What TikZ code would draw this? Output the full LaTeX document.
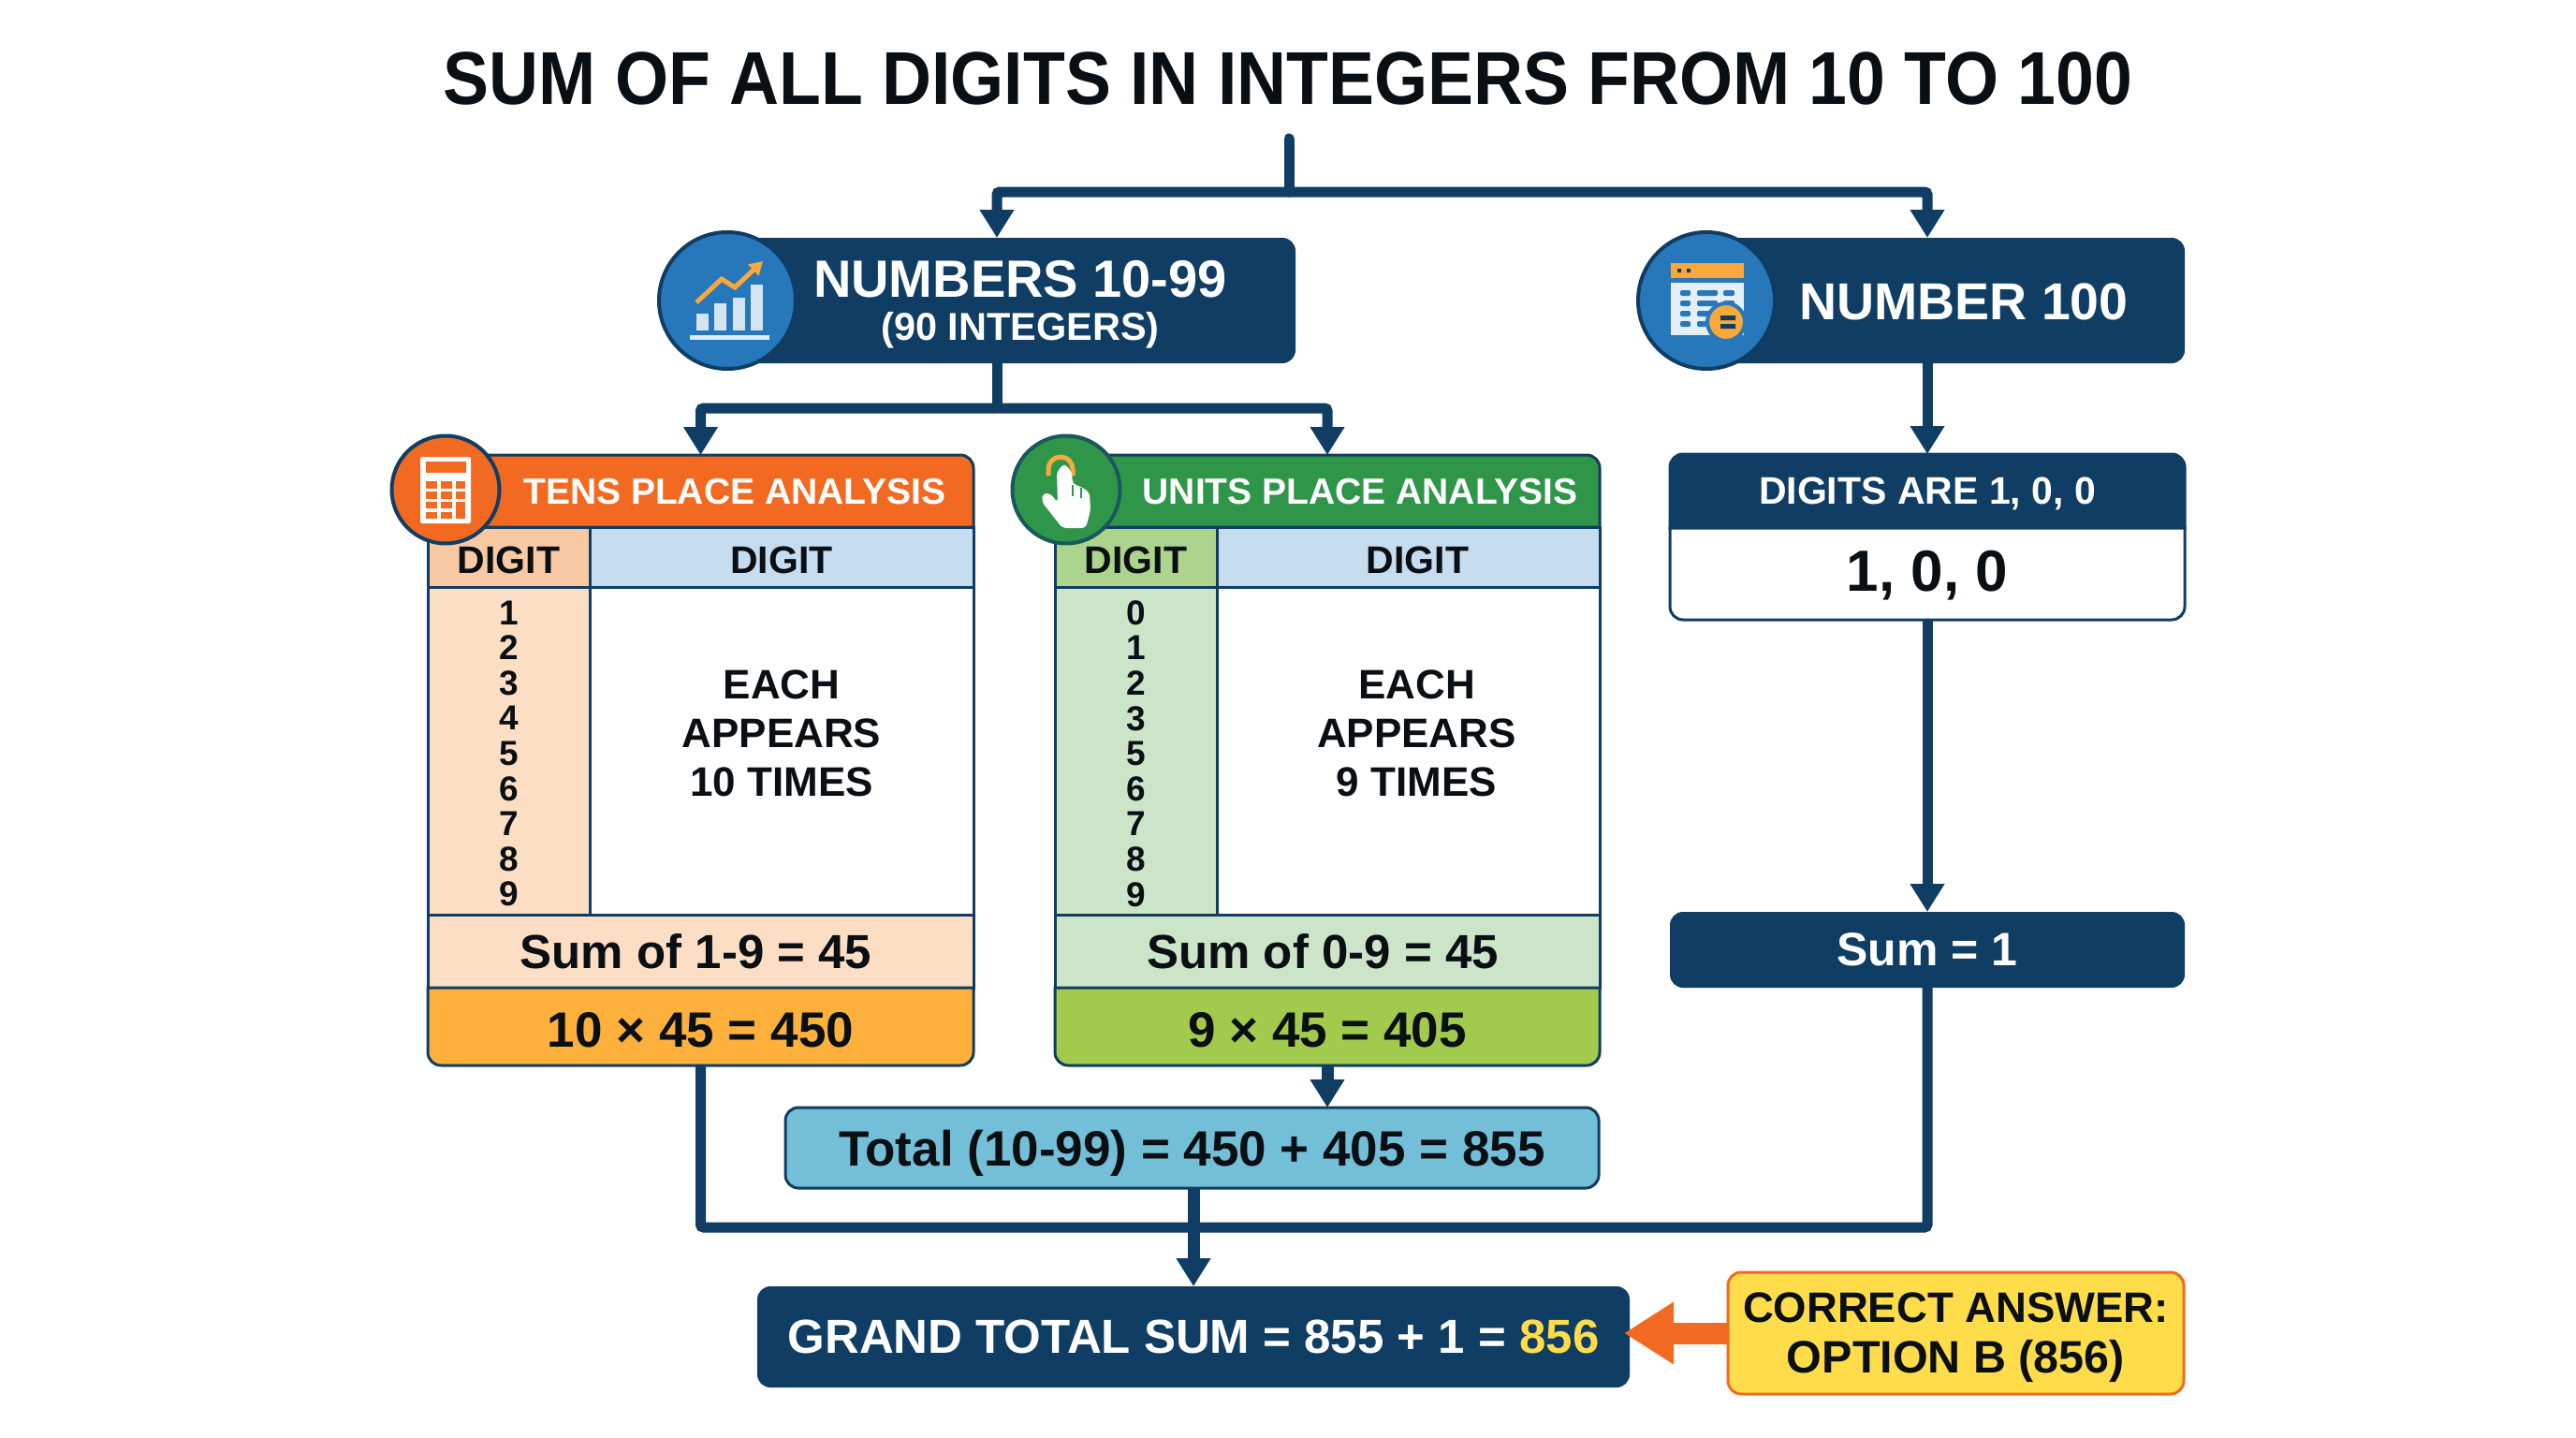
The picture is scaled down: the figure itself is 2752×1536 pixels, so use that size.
\documentclass[tikz,border=0pt]{standalone}
\usepackage{fontspec}
\setmainfont{Liberation Sans}
\newfontfamily\titlefont{Liberation Sans}[FakeStretch=0.917]
\usetikzlibrary{positioning,arrows.meta}

\definecolor{navy}{HTML}{0F3D63}
\definecolor{iconblue}{HTML}{2678BA}
\definecolor{tensorange}{HTML}{F26A21}
\definecolor{tenslight}{HTML}{FBDEC4}
\definecolor{tensdigit}{HTML}{F9C9A3}
\definecolor{tensgold}{HTML}{FDB03C}
\definecolor{unitsgreen}{HTML}{2F9649}
\definecolor{unitslight}{HTML}{CCE5C8}
\definecolor{unitsdigit}{HTML}{ADD48D}
\definecolor{unitslime}{HTML}{A2CB4D}
\definecolor{headblue}{HTML}{C6DDF0}
\definecolor{totalblue}{HTML}{74BFD8}
\definecolor{answeryellow}{HTML}{FFDD4A}
\definecolor{iconorange}{HTML}{F9A83A}
\definecolor{inktext}{HTML}{0A0F14}

\newcommand{\fszl}[2]{\fontsize{#1}{#2}\bfseries\selectfont}

\tikzset{
    flow/.style={draw=navy, line width=11pt, rounded corners=3pt},
    flowtip/.style={flow, -{Triangle[length=30pt,width=35pt]}},
    cell/.style={draw=navy, line width=3pt, outer sep=0pt, inner sep=0pt},
    digitcell/.style={cell, font=\fszl{41}{48}, text=inktext, text height=36pt, minimum height=64pt},
    panel/.style={draw=navy, line width=3pt},
    navybox/.style={fill=navy, rounded corners=14pt, outer sep=0pt},
    headslot/.style={outer sep=0pt, inner sep=0pt},
    iconball/.style={circle, draw=navy, line width=4pt, minimum size=#1, outer sep=0pt},
    textlabel/.style={text=inktext, align=center, inner sep=0pt}
}

\begin{document}
\begin{tikzpicture}[x=1pt, y=-1pt]
        \useasboundingbox[fill=white] (0,0) rectangle (2752,1536);

        \node[textlabel, font=\titlefont\fszl{80}{96}](title) at (1376,84){SUM OF ALL DIGITS IN INTEGERS FROM 10 TO 100};

        % top row
        \node[navybox, minimum width=638pt, minimum height=134pt](numbers) at (1065,321){};
        \node[navybox, minimum width=550pt, minimum height=134pt](hundred) at (2059,321){};
        \node[textlabel, text=white, font=\fszl{56}{67}](numberstext) at (1090,298){NUMBERS 10-99};
        \node[textlabel, text=white, font=\fszl{41.5}{50}](rangetext) at (1090,353){(90 INTEGERS)};
        \node[textlabel, text=white, font=\fszl{55.5}{67}](hundredtext) at (2098,322){NUMBER 100};

        % tens panel
        \node[headslot, minimum width=583pt, minimum height=77pt](tenshead) at (748.5,524.5){};
        \draw[panel, fill=tensorange] (tenshead.south west) [rounded corners=14pt] |- (tenshead.north east)
            [sharp corners] -- (tenshead.south east) -- cycle;
        \node[textlabel, text=white, font=\fszl{39}{48}](tenstitle) at (785,525){TENS PLACE ANALYSIS};
        \node[digitcell, fill=tensdigit, minimum width=173pt, below right=0pt and 0pt of tenshead.south west](tensdigit){DIGIT};
        \node[digitcell, fill=headblue, minimum width=410pt, right=0pt of tensdigit](tensrowhead){DIGIT};
        \node[cell, fill=tenslight, minimum width=173pt, minimum height=350pt, below=0pt of tensdigit](tenscol){};
        \node[textlabel, font=\fszl{37}{37.6}](tensvalues) at ([yshift=-3pt]tenscol.center){1\\2\\3\\4\\5\\6\\7\\8\\9};
        \node[cell, fill=white, minimum width=410pt, minimum height=350pt, right=0pt of tenscol](tensbody){};
        \node[textlabel, font=\fszl{44}{52}](tensnote) at ([yshift=19pt]tensbody.center){EACH\\APPEARS\\10 TIMES};
        \node[cell, fill=tenslight, font=\fszl{51}{60}, text=inktext, minimum width=583pt, minimum height=78pt, below=0pt of tenscol.south west, anchor=north west](tenssum){Sum of 1-9 = 45\hspace*{10pt}};
        \node[headslot, minimum width=583pt, minimum height=83pt, below=0pt of tenssum](tensresult){};
        \draw[panel, fill=tensgold] (tensresult.north west) [rounded corners=14pt] |- (tensresult.south east)
            [sharp corners] -- (tensresult.north east) -- cycle;
        \node[textlabel, font=\fszl{53}{60}](tensresulttext) at ([yshift=-4pt]tensresult.center){10 × 45 = 450};

        % units panel
        \node[headslot, minimum width=582pt, minimum height=77pt](unitshead) at (1418,524.5){};
        \draw[panel, fill=unitsgreen] (unitshead.south west) [rounded corners=14pt] |- (unitshead.north east)
            [sharp corners] -- (unitshead.south east) -- cycle;
        \node[textlabel, text=white, font=\fszl{39}{48}](unitstitle) at (1453,525){UNITS PLACE ANALYSIS};
        \node[digitcell, fill=unitsdigit, minimum width=173pt, below right=0pt and 0pt of unitshead.south west](unitsdigit){DIGIT};
        \node[digitcell, fill=headblue, minimum width=409pt, right=0pt of unitsdigit](unitsrowhead){\hspace*{20pt}DIGIT};
        \node[cell, fill=unitslight, minimum width=173pt, minimum height=350pt, below=0pt of unitsdigit](unitscol){};
        \node[textlabel, font=\fszl{37}{37.6}](unitsvalues) at ([yshift=-3pt]unitscol.center){0\\1\\2\\3\\5\\6\\7\\8\\9};
        \node[cell, fill=white, minimum width=409pt, minimum height=350pt, right=0pt of unitscol](unitsbody){};
        \node[textlabel, font=\fszl{44}{52}](unitsnote) at ([yshift=19pt,xshift=9pt]unitsbody.center){EACH\\APPEARS\\9 TIMES};
        \node[cell, fill=unitslight, font=\fszl{51}{60}, text=inktext, minimum width=582pt, minimum height=78pt, below=0pt of unitscol.south west, anchor=north west](unitssum){Sum of 0-9 = 45\hspace*{10pt}};
        \node[headslot, minimum width=582pt, minimum height=83pt, below=0pt of unitssum](unitsresult){};
        \draw[panel, fill=unitslime] (unitsresult.north west) [rounded corners=14pt] |- (unitsresult.south east)
            [sharp corners] -- (unitsresult.north east) -- cycle;
        \node[textlabel, font=\fszl{53}{60}](unitsresulttext) at ([yshift=-4pt]unitsresult.center){9 × 45 = 405};

        % number 100 column
        \node[headslot, minimum width=550pt, minimum height=79pt](digitshead) at (2059,524.5){};
        \draw[fill=navy, draw=navy, line width=3pt] (digitshead.south west) [rounded corners=14pt] |- (digitshead.north east)
            [sharp corners] -- (digitshead.south east) -- cycle;
        \node[textlabel, text=white, font=\fszl{41}{50}, text depth=0pt](digitstitle) at (digitshead.center){DIGITS ARE 1, 0, 0};
        \node[headslot, minimum width=550pt, minimum height=98pt, below=0pt of digitshead](digitsbody){};
        \draw[panel, fill=white] (digitsbody.north west) [rounded corners=14pt] |- (digitsbody.south east)
            [sharp corners] -- (digitsbody.north east) -- cycle;
        \node[textlabel, font=\fszl{62}{75}](digitstext) at ([yshift=-2pt]digitsbody.center){1, 0, 0};
        \node[navybox, minimum width=550pt, minimum height=81pt, text=white, font=\fszl{50}{60}](sumone) at (2059,1014.5){Sum = 1};

        % bottom boxes
        \node[cell, fill=totalblue, rounded corners=14pt, font=\fszl{53}{63}, text=inktext, text depth=0pt, minimum width=869pt, minimum height=86pt](total) at (1273.5,1226){Total (10-99) = 450 + 405 = 855};
        \node[navybox, minimum width=932pt, minimum height=108pt, text=white, font=\fszl{51}{62}](grand) at (1275,1428){GRAND TOTAL SUM = 855 + 1 = \textcolor{answeryellow}{856}};
        \node[cell, draw=tensorange, fill=answeryellow, rounded corners=14pt, text=inktext, font=\fszl{45.5}{54}, text depth=0pt, align=center, minimum width=487pt, minimum height=130pt](answer) at (2089.5,1424){CORRECT ANSWER:\\\fszl{48.5}{54}OPTION B (856)};

        % connectors
        \coordinate (titlestub) at (1377,148);
        \coordinate (split) at (1377,205);
        \coordinate (splitnums) at (1065,436);
        \coordinate (busjoin) at (1275,1311);
        \draw[flow, line cap=round] (titlestub) -- (split);
        \draw[flowtip] (split) -| (numbers.north);
        \draw[flowtip] (split) -| (hundred.north);
        \draw[flow] (numbers.south) -- (splitnums);
        \draw[flowtip] (splitnums) -| (tenshead.north);
        \draw[flowtip] (splitnums) -| (unitshead.north);
        \draw[flowtip] (hundred.south) -- (digitshead.north);
        \draw[flowtip] (digitsbody.south) -- (sumone.north);
        \draw[flow] (tensresult.south) |- (sumone.south |- busjoin) -- (sumone.south);
        \draw[flowtip, line width=13pt] (unitsresult.south) -- (total.north -| unitsresult.south);
        \draw[flowtip, line width=13pt] (total.south -| grand.north) -- (grand.north);
        \draw[draw=tensorange, line width=23pt, shorten >=-6pt, -{Triangle[length=53pt,width=63pt]}] (answer.west) -- (grand.east |- answer.west);

        % icon balls
        \node[iconball=146pt, fill=iconblue](barsicon) at (777,321){};
        \fill[white!85!iconblue] (737,358) rectangle (822,363);
        \foreach \barx/\bartop in {744/335, 763/324, 783/318, 802/304}
            \fill[white!80!iconblue] (\barx,353) rectangle (\barx+13,\bartop);
        \draw[iconorange, line width=5pt, -{Triangle[length=14pt,width=16pt]}] (744,323) -- (771,298) -- (785,307) -- (815,279);

        \node[iconball=146pt, fill=iconblue](tableicon) at (1823,321){};
        \fill[iconorange] (1785,281) rectangle (1863,297);
        \fill[navy] (1792,287) rectangle (1796,291) (1802,287) rectangle (1806,291);
        \fill[white!88!iconblue] (1785,302) rectangle (1863,358);
        \foreach \rowy in {313,324,335,346}
            \fill[iconblue, rounded corners=2pt] (1795,\rowy-3) rectangle (1806,\rowy+3) (1813,\rowy-3) rectangle (1835,\rowy+3) (1841,\rowy-3) rectangle (1853,\rowy+3);
        \draw[iconblue, fill=iconorange, line width=4pt] (1844,344) circle (20pt);
        \fill[navy] (1838,337) rectangle (1854,342) (1838,346) rectangle (1854,351);

        \node[iconball=115pt, fill=tensorange](calcicon) at (476,523){};
        \fill[white, rounded corners=2pt] (449,488) rectangle (503,559);
        \fill[tensorange] (455,493) rectangle (498,505);
        \foreach \keyy in {514,525}
            \foreach \keyx/\keyw in {455/12, 471/12, 487/10}
                \fill[tensorange] (\keyx,\keyy) rectangle (\keyx+\keyw,\keyy+8);
        \foreach \keyy in {536,547}
            \foreach \keyx in {455,471}
                \fill[tensorange] (\keyx,\keyy) rectangle (\keyx+12,\keyy+7);
        \fill[tensorange] (487,536) rectangle (497,554);

        \node[iconball=115pt, fill=unitsgreen, draw=navy!70!unitsgreen](handicon) at (1139,523){};
        \draw[iconorange, line width=5pt] (1120,508) -- (1120,501) arc[start angle=180, end angle=0, radius=13pt] -- (1146,508);
        \fill[white, rounded corners=4pt] (1129,504) -- (1137,495) -- (1145,504) -- (1146,517) -- (1155,520) -- (1164,526)
            -- (1165,545) -- (1160,564) -- (1135,564) -- (1113,536) -- (1114,527) -- (1122,527) -- (1130,537) -- cycle;
        \draw[unitsgreen, line width=2pt] (1146,518) -- (1146,530) (1155,521) -- (1155,532);
\end{tikzpicture}
\end{document}
